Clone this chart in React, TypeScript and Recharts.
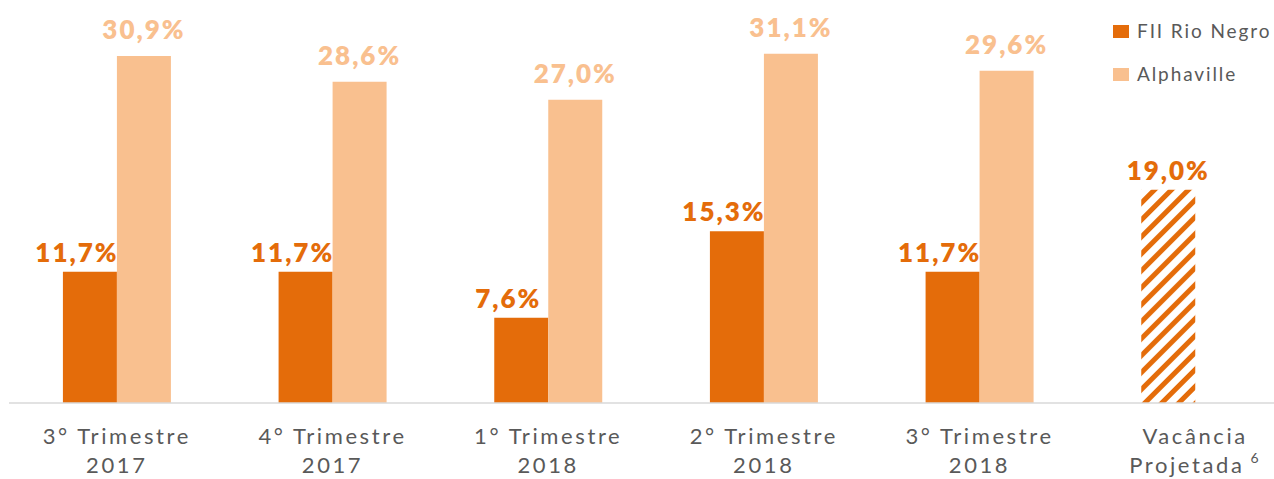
import { BarChart, Bar, XAxis, YAxis, Cell, LabelList } from "recharts";

const quarterTop = ["3° Trimestre", "4° Trimestre", "1° Trimestre", "2° Trimestre", "3° Trimestre", "Vacância"];
const quarterBottom = ["2017", "2017", "2018", "2018", "2018", "Projetada"];
const rioNegro = [11.7, 11.7, 7.6, 15.3, 11.7, 19.0];
const alphaville: (number | null)[] = [30.9, 28.6, 27.0, 31.1, 29.6, null];
const seriesNames = ["FII Rio Negro", "Alphaville"];

const DARK = "#E46C0A";
const LIGHT = "#F9C08F";
const FONT = "Lato, 'Open Sans', sans-serif";

const chartData = quarterTop.map((q, i) => ({
  cat: `${q} ${quarterBottom[i]}`,
  rio: rioNegro[i],
  alpha: alphaville[i],
}));

const fmt = (v: number) => `${v.toFixed(1).replace(".", ",")}%`;

const Tick = (props: any) => {
  const { x, y, payload } = props;
  const i = payload.index;
  const last = i === quarterTop.length - 1;
  return (
    <g>
      <text x={x} y={y + 41} textAnchor="middle" fill="#595959" fontSize={22} fontFamily={FONT} letterSpacing={2.6}>
        {quarterTop[i]}
      </text>
      <text x={x} y={y + 70} textAnchor="middle" fill="#595959" fontSize={22} fontFamily={FONT} letterSpacing={2.6}>
        {quarterBottom[i]}
        {last && (
          <tspan fontSize={14} dx={6} dy={-10}>
            6
          </tspan>
        )}
      </text>
    </g>
  );
};

const makeLabel = (color: string, gap: number, shiftWhenPaired: boolean) => (props: any) => {
  const { x, y, width, value, index } = props;
  if (value == null) return null;
  const paired = shiftWhenPaired && alphaville[index] != null;
  return (
    <text
      x={x + width / 2 + (paired ? -13 : 0)}
      y={y - gap}
      textAnchor="middle"
      fill={color}
      fontSize={26}
      fontWeight={800}
      fontFamily={FONT}
      letterSpacing={2}
    >
      {fmt(value)}
    </text>
  );
};

const LegendBox = () => (
  <div style={{ position: "absolute", left: 1113, top: 0, width: 161, height: 90 }}>
    {seriesNames.map((name, i) => (
      <div key={name} style={{ position: "absolute", left: 0, top: 24 + i * 43, display: "flex", alignItems: "center", whiteSpace: "nowrap" }}>
        <span style={{ width: 16, height: 13, background: i === 0 ? DARK : LIGHT, display: "inline-block" }} />
        <span style={{ marginLeft: 8, fontFamily: FONT, fontSize: 19, color: "#595959", letterSpacing: 1.9, lineHeight: "14px" }}>
          {name}
        </span>
      </div>
    ))}
  </div>
);

export default function App() {
  return (
    <div style={{ position: "fixed", left: 0, top: 0, width: 1274, height: 479, overflow: "hidden", background: "#fff" }}>
      <BarChart
        width={1310}
        height={479}
        data={chartData}
        margin={{ top: 10, right: 7, left: 9, bottom: 0 }}
        barCategoryGap="25%"
        barGap={0}
      >
        <defs>
          <pattern id="hatch" width={12} height={12} patternUnits="userSpaceOnUse" patternTransform="rotate(45)">
            <rect width={12} height={12} fill="#fff" />
            <rect width={5} height={12} fill={DARK} />
          </pattern>
        </defs>
        <XAxis
          dataKey="cat"
          axisLine={{ stroke: "#D9D9D9", strokeWidth: 1.5 }}
          tickLine={false}
          tickSize={0}
          tickMargin={0}
          interval={0}
          tick={<Tick />}
          height={76}
        />
        <YAxis hide domain={[0, 35]} />
        <Bar dataKey="rio" fill={DARK} isAnimationActive={false}>
          {chartData.map((_, i) => (
            <Cell key={i} fill={i === chartData.length - 1 ? "url(#hatch)" : DARK} />
          ))}
          <LabelList dataKey="rio" content={makeLabel(DARK, 10, true)} />
        </Bar>
        <Bar dataKey="alpha" fill={LIGHT} isAnimationActive={false}>
          <LabelList dataKey="alpha" content={makeLabel(LIGHT, 17, false)} />
        </Bar>
      </BarChart>
      <LegendBox />
    </div>
  );
}
